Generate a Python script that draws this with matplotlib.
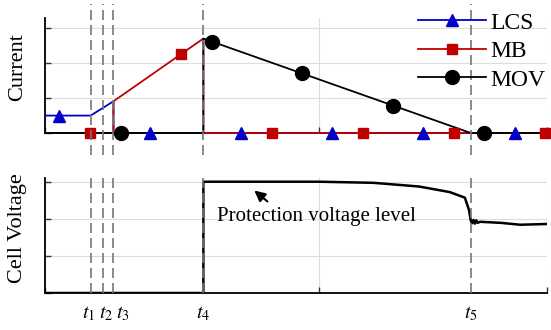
"""
Corrente e tensão da célula durante a proteção (LCS / MB / MOV)
"""

import matplotlib.pyplot as plt
from matplotlib.lines import Line2D
import numpy as np

plt.rcParams['font.family'] = ['Liberation Serif', 'DejaVu Serif']
plt.rcParams['mathtext.fontset'] = 'stix'

# Instantes de comutação (unidades arbitrárias de tempo)
t_nomes = ['$t_1$', '$t_2$', '$t_3$', '$t_4$', '$t_5$']
t_vals = [1.0, 1.28, 1.5, 3.47, 9.33]

# Correntes (unidades arbitrárias)
lcs_x = [0, 1.0, 1.5, 1.5, 11]
lcs_y = [0.5, 0.5, 0.91, 0, 0]
mb_x = [0, 1.5, 1.5, 3.47, 3.47, 11]
mb_y = [0, 0, 0.91, 2.71, 0, 0]
mov_x = [0, 3.47, 3.47, 9.33, 11]
mov_y = [0, 0, 2.71, 0, 0]

# Posições dos marcadores ao longo de cada curva
lcs_marc = [0.31, 2.30, 4.29, 6.29, 8.28, 10.30]
mb_marc = [0.99, 2.98, 4.97, 6.97, 8.96, 10.96]
mov_marc = [1.67, 3.66, 5.63, 7.63, 9.62]

# Tensão da célula
v_x = [0, 3.47, 3.47, 6.0, 7.2, 8.2, 8.87, 9.2, 9.29, 9.33, 9.36, 9.39, 9.42,
       9.45, 9.48, 9.53, 10.0, 10.41, 11]
v_y = [0, 0, 3.0, 3.0, 2.97, 2.87, 2.72, 2.57, 2.24, 1.95, 1.88, 1.97, 1.87,
       1.96, 1.89, 1.92, 1.89, 1.84, 1.86]

CORES = {'LCS': '#0000c8', 'MB': '#c00000', 'MOV': 'black'}
XMAX = 11


def _eixo_base(ax, ymax, yticks):
    ax.set_xlim(0, XMAX)
    ax.set_ylim(0, ymax)
    ax.set_yticks(yticks)
    ax.set_yticklabels([])
    ax.set_xticks([0, 6, 11])
    ax.set_xticklabels([])
    ax.tick_params(direction='in', length=4, width=1, color='#333333')
    for lado in ['top', 'right']:
        ax.spines[lado].set_visible(False)
    for lado in ['left', 'bottom']:
        ax.spines[lado].set_linewidth(1.3)
    ax.grid(True, color='#dddddd', linewidth=0.8)
    ax.set_axisbelow(True)


fig = plt.figure(figsize=(5.51, 3.30), dpi=100)
ax1 = fig.add_axes([45 / 551, 1 - 133 / 330, 502 / 551, 115 / 330])
ax2 = fig.add_axes([45 / 551, 1 - 293 / 330, 502 / 551, 115 / 330])

# --- Corrente ---
_eixo_base(ax1, 3.3, [0, 1, 2, 3])
series = [('LCS', lcs_x, lcs_y, lcs_marc, '^', 9),
          ('MB', mb_x, mb_y, mb_marc, 's', 7),
          ('MOV', mov_x, mov_y, mov_marc, 'o', 10)]
handles = []
for z, (nome, xs, ys, marc, m, ms) in enumerate(series):
    ax1.plot(xs, ys, color=CORES[nome], lw=1.3, zorder=3 + z, clip_on=False)
    # marcadores colocados sobre a própria curva
    my = np.interp(marc, xs, ys)
    ax1.plot(marc, my, ls='none', marker=m, ms=ms, color=CORES[nome],
             zorder=7, clip_on=False)
    handles.append(Line2D([], [], color=CORES[nome], lw=1.3, marker=m, ms=ms))

for t in t_vals:
    ax1.axvline(t, ymin=-0.19, ymax=1.12, color='#777777', lw=1.2,
                ls=(0, (6, 3)), clip_on=False, zorder=8)

ax1.set_ylabel('Current', fontsize=16)
ax1.yaxis.set_label_coords(-0.036, 0.57)

fig.legend(handles, ['LCS', 'MB', 'MOV'], loc='upper left',
           bbox_to_anchor=(418 / 551, 1 - 12 / 330), frameon=False,
           fontsize=17, handlelength=2.9, handletextpad=0.15,
           labelspacing=0.3, borderpad=0, borderaxespad=0, numpoints=1)

# --- Tensão ---
_eixo_base(ax2, 3.1, [0, 1, 2, 3])
ax2.plot(v_x, v_y, color='black', lw=1.8, zorder=4)
for t in t_vals:
    ax2.axvline(t, ymin=0, ymax=1.045, color='#777777', lw=1.2,
                ls=(0, (6, 3)), clip_on=False, zorder=8)

# rótulos t1..t5 abaixo do eixo (t1-t3 afastados para não se sobreporem)
desloc = [-1.5, 1.8, 6.5, 0, 0]
for nome, t, dx in zip(t_nomes, t_vals, desloc):
    ax2.annotate(nome, xy=(t, 0), xytext=(dx, -8), textcoords='offset points',
                 ha='center', va='top', fontsize=14.5)

ax2.annotate('', xy=(4.54, 2.81), xytext=(4.92, 2.42),
             arrowprops=dict(arrowstyle='-|>', lw=1.5, color='black',
                             mutation_scale=16))
ax2.text(3.77, 2.05, 'Protection voltage level', ha='left', va='center',
         fontsize=15)

ax2.set_ylabel('Cell Voltage', fontsize=16)
ax2.yaxis.set_label_coords(-0.036, 0.56)

plt.savefig('out.png', dpi=100)
plt.close()
